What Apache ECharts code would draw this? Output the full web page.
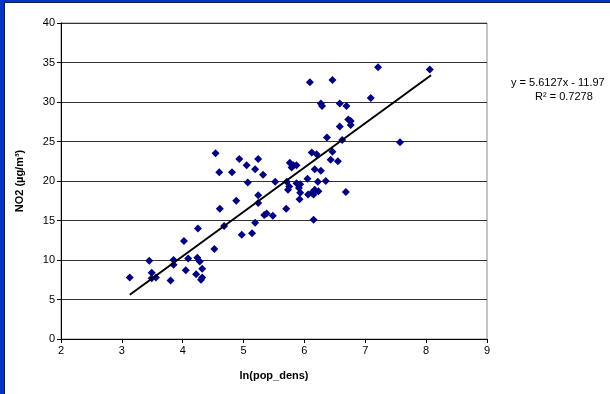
<!DOCTYPE html>
<html>
<head>
<meta charset="utf-8">
<script src="https://cdn.jsdelivr.net/npm/echarts@6/dist/echarts.min.js"></script>
<style>
  html, body { margin: 0; padding: 0; background: #0533c6; width: 610px; height: 394px; overflow: hidden; }
  #chart { position: absolute; left: 4px; top: 2px; width: 606px; height: 392px;
           border-left: 1px solid #1a1a4a; border-top: 1px solid #1a1a4a; background: #fff; }
</style>
</head>
<body>
<div id="chart"></div>
<script>
// NO2 vs ln(population density)
var xTicks = [2, 3, 4, 5, 6, 7, 8, 9];
var yTicks = [0, 5, 10, 15, 20, 25, 30, 35, 40];

var popDens = [
  3.13, 3.45, 3.49, 3.49, 3.56, 3.80, 3.85, 3.85, 4.02, 4.05, 4.09, 4.22, 4.24, 4.25, 4.28, 4.30, 4.32, 4.32, 4.52,
  4.54, 4.60, 4.61, 4.68, 4.81, 4.88, 4.93, 4.97, 5.05, 5.07, 5.14, 5.19, 5.19, 5.24, 5.24, 5.24, 5.32, 5.34, 5.38, 5.48, 5.52, 5.70,
  5.71, 5.73, 5.75, 5.76, 5.79, 5.82, 5.87, 5.87, 5.91, 5.93, 5.93, 5.92, 6.05, 6.06, 6.12, 6.15, 6.17, 6.23, 6.15, 6.17, 6.27, 6.22, 6.35, 6.68, 6.43, 6.55, 6.12, 6.20, 6.46,
  6.09, 6.46, 7.21, 8.06, 7.09, 6.27, 6.29, 6.58, 6.69, 6.72, 6.76, 6.76, 6.58, 6.37, 6.62, 7.57
];
var no2 = [
  7.8, 9.9, 8.4, 7.7, 7.8, 7.4, 10.0, 9.4, 12.4, 8.7, 10.2, 8.2, 10.3, 14.0, 9.8, 7.5, 8.9, 7.8, 11.4,
  23.5, 21.1, 16.5, 14.3, 21.1, 17.5, 22.8, 13.2, 22.0, 19.8, 13.4, 21.5, 14.7, 22.8, 18.2, 17.2, 20.8, 15.7, 15.9, 15.6, 19.9, 16.5,
  19.9, 18.9, 19.3, 22.3, 21.7, 22.0, 22.0, 19.7, 19.1, 19.6, 18.5, 17.7, 20.3, 18.3, 18.5, 18.3, 18.9, 18.7, 15.1, 21.5, 21.3, 19.9, 20.0, 18.6, 22.7, 22.5, 23.6, 23.4, 23.7,
  32.5, 32.8, 34.4, 34.1, 30.5, 29.8, 29.5, 29.8, 29.5, 27.8, 27.6, 27.1, 26.9, 25.5, 25.2, 24.9
];

// linear trend line ends (y = 5.6127x - 11.97)
var trendX = [3.13, 8.08];
var trendY = [5.60, 33.38];
var eqText = 'y = 5.6127x - 11.97';
var r2Text = 'R\u00b2 = 0.7278';

var chart = echarts.init(document.getElementById('chart'));
var points = popDens.map(function (x, i) { return [x, no2[i]]; });
var trend = trendX.map(function (x, i) { return [x, trendY[i]]; });
var font = '"Liberation Sans", Arial, sans-serif';

var option = {
  animation: false,
  backgroundColor: '#fff',
  grid: {
    left: 56, top: 20, width: 426, height: 316,
    show: true, borderColor: '#8c8c8c', borderWidth: 1
  },
  xAxis: {
    type: 'value',
    min: xTicks[0], max: xTicks[xTicks.length - 1], interval: 1,
    name: 'ln(pop_dens)',
    nameLocation: 'middle', nameGap: 31,
    nameTextStyle: { fontFamily: font, fontSize: 11, fontWeight: 'bold', color: '#000' },
    axisLine: { show: true, onZero: false, lineStyle: { color: '#000', width: 1 } },
    axisTick: { show: true, length: 4, lineStyle: { color: '#000' } },
    axisLabel: { fontFamily: font, fontSize: 11, color: '#000', margin: 6 },
    splitLine: { show: false }
  },
  yAxis: {
    type: 'value',
    min: yTicks[0], max: yTicks[yTicks.length - 1], interval: 5,
    name: 'NO2 (\u00b5g/m\u00b3)',
    nameLocation: 'middle', nameGap: 36,
    nameTextStyle: { fontFamily: font, fontSize: 11, fontWeight: 'bold', color: '#000' },
    axisLine: { show: true, onZero: false, lineStyle: { color: '#000', width: 1 } },
    axisTick: { show: true, length: 4, lineStyle: { color: '#000' } },
    axisLabel: { fontFamily: font, fontSize: 11, color: '#000', margin: 6 },
    splitLine: { show: true, lineStyle: { color: '#333', width: 1 } }
  },
  series: [
    {
      type: 'scatter',
      data: points,
      symbol: 'diamond',
      symbolSize: 8,
      itemStyle: { color: '#000080', opacity: 1 },
      z: 3
    },
    {
      type: 'line',
      data: trend,
      symbol: 'none',
      lineStyle: { color: '#000', width: 2 },
      z: 4
    }
  ],
  graphic: [
    {
      type: 'text', left: 506, top: 74,
      style: { text: eqText, font: '11px ' + font, fill: '#000' }
    },
    {
      type: 'text', left: 530, top: 88,
      style: { text: r2Text, font: '11px ' + font, fill: '#000' }
    }
  ]
};
chart.setOption(option);
</script>
</body>
</html>
